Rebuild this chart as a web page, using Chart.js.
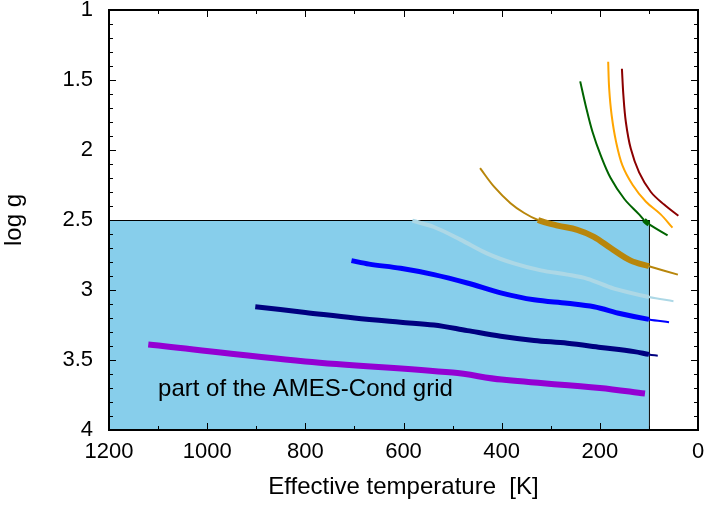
<!DOCTYPE html>
<html>
<head>
<meta charset="utf-8">
<script src="https://cdn.jsdelivr.net/npm/chart.js@4"></script>
<style>
  html, body { margin: 0; padding: 0; background: #fff; }
</style>
</head>
<body>
<canvas id="teffChart" width="709" height="505"></canvas>
<script>
// cooling tracks: effective temperature [K] vs log g
const tempViolet = [1120, 800, 500, 400, 200, 108];
const loggViolet = [3.39, 3.51, 3.59, 3.64, 3.70, 3.74];

const tempNavy = [902, 800, 700, 606, 538, 470, 402, 334, 266, 198, 130, 100, 82];
const loggNavy = [3.12, 3.16, 3.20, 3.23, 3.25, 3.29, 3.33, 3.36, 3.38, 3.41, 3.44, 3.46, 3.47];

const tempBlue = [706, 670, 606, 538, 470, 402, 334, 266, 212, 157, 100, 59];
const loggBlue = [2.79, 2.815, 2.845, 2.89, 2.95, 3.02, 3.07, 3.095, 3.12, 3.17, 3.21, 3.23];

const tempLightBlue = [582, 538, 484, 429, 375, 320, 266, 225, 171, 100, 50];
const loggLightBlue = [2.505, 2.55, 2.64, 2.74, 2.81, 2.86, 2.89, 2.92, 2.99, 3.05, 3.08];

const tempGold = [444, 416, 382, 354, 326, 286, 246, 212, 178, 137, 100, 41];
const loggGold = [2.13, 2.26, 2.38, 2.45, 2.50, 2.54, 2.57, 2.62, 2.70, 2.79, 2.83, 2.89];

const tempGreen = [240, 229, 215, 198, 178, 150, 120, 110, 100, 62];
const loggGreen = [1.51, 1.68, 1.87, 2.04, 2.20, 2.35, 2.46, 2.50, 2.53, 2.61];

const tempOrange = [183, 181, 176, 167, 154, 133, 106, 76, 52];
const loggOrange = [1.37, 1.56, 1.75, 1.94, 2.11, 2.25, 2.37, 2.46, 2.555];

const tempDarkRed = [155, 152, 147, 137, 120, 96, 69, 40];
const loggDarkRed = [1.42, 1.61, 1.80, 1.99, 2.16, 2.30, 2.39, 2.47];

// AMES-Cond grid region
const gridTemp = [1200, 100];
const gridLogg = [2.5, 4];
const gridLabel = 'part of the AMES-Cond grid';

const xTicks = [1200, 1000, 800, 600, 400, 200, 0];
const yTicks = [1, 1.5, 2, 2.5, 3, 3.5, 4];

const FONT = "'Liberation Sans', Arial, Helvetica, sans-serif";

function toPoints(temps, loggs) {
    return temps.map((t, i) => ({ x: t, y: loggs[i] }));
}

// inside the grid box -> thick line, outside -> thin line
function inGrid(p) {
    return p.x >= gridTemp[1] - 1 && p.y >= gridLogg[0] - 0.01;
}

function track(points, color, thick) {
    return {
        data: points,
        borderColor: color,
        borderWidth: 2,
        pointRadius: 0,
        tension: 0.35,
        segment: {
            borderWidth: c => {
                const d = c.chart.data.datasets[c.datasetIndex].data;
                return inGrid(d[c.p0DataIndex]) && inGrid(d[c.p1DataIndex]) ? thick : 2;
            }
        }
    };
}

const gridBox = {
    id: 'gridBox',
    beforeDatasetsDraw(chart) {
        const { ctx, scales: { x, y } } = chart;
        const l = x.getPixelForValue(gridTemp[0]);
        const r = x.getPixelForValue(gridTemp[1]);
        const t = y.getPixelForValue(gridLogg[0]);
        const b = y.getPixelForValue(gridLogg[1]);
        ctx.save();
        ctx.fillStyle = '#87ceeb';
        ctx.fillRect(l, t, r - l, b - t);
        ctx.strokeStyle = '#000';
        ctx.lineWidth = 1;
        ctx.strokeRect(l, t + 0.5, r - l + 0.5, b - t);
        ctx.fillStyle = '#000';
        ctx.font = '24px ' + FONT;
        ctx.textBaseline = 'alphabetic';
        ctx.fillText(gridLabel, x.getPixelForValue(1100), y.getPixelForValue(3.757));
        ctx.restore();
    },
    afterDraw(chart) {
        const { ctx, chartArea: a, scales: { x, y } } = chart;
        ctx.save();
        ctx.strokeStyle = '#000';
        ctx.lineWidth = 1;
        ctx.beginPath();
        for (let t = 0; t <= 1200; t += 100) {
            const px = Math.round(x.getPixelForValue(t)) + 0.5;
            const len = t % 200 === 0 ? 7 : 4;
            ctx.moveTo(px, a.bottom); ctx.lineTo(px, a.bottom - len);
            ctx.moveTo(px, a.top); ctx.lineTo(px, a.top + len);
        }
        for (let i = 0; i <= 30; i++) {
            const py = Math.round(y.getPixelForValue(1 + i / 10)) + 0.5;
            const len = i % 5 === 0 ? 7 : 4;
            ctx.moveTo(a.left, py); ctx.lineTo(a.left + len, py);
            ctx.moveTo(a.right, py); ctx.lineTo(a.right - len, py);
        }
        ctx.stroke();
        ctx.lineWidth = 2;
        ctx.strokeRect(a.left, a.top, a.right - a.left, a.bottom - a.top);
        ctx.restore();
    }
};

Chart.defaults.font.family = FONT;
Chart.defaults.color = '#000';

new Chart(document.getElementById('teffChart'), {
    type: 'line',
    data: {
        datasets: [
            track(toPoints(tempViolet, loggViolet), '#9400d3', 6),
            track(toPoints(tempNavy, loggNavy), '#000080', 5),
            track(toPoints(tempBlue, loggBlue), '#0000ff', 5),
            track(toPoints(tempLightBlue, loggLightBlue), '#add8e6', 4),
            track(toPoints(tempGold, loggGold), '#b8860b', 6),
            track(toPoints(tempGreen, loggGreen), '#006400', 5),
            track(toPoints(tempOrange, loggOrange), '#ffa500', 4),
            track(toPoints(tempDarkRed, loggDarkRed), '#8b0000', 4)
        ]
    },
    options: {
        responsive: false,
        animation: false,
        layout: { autoPadding: false, padding: { top: 10, right: 11, left: 0, bottom: 0 } },
        plugins: { legend: { display: false }, tooltip: { enabled: false } },
        scales: {
            x: {
                type: 'linear',
                reverse: true,
                min: 0,
                max: 1200,
                afterFit: s => { s.height = 75; },
                afterBuildTicks: s => { s.ticks = xTicks.map(v => ({ value: v })); },
                grid: { display: false, drawTicks: true, tickLength: 13 },
                border: { display: false },
                ticks: { padding: 0, font: { size: 22, lineHeight: 0.8 }, maxRotation: 0, callback: v => String(v) },
                title: {
                    display: true,
                    text: 'Effective temperature  [K]',
                    font: { size: 24 },
                    padding: { top: 0, bottom: 3 }
                }
            },
            y: {
                type: 'linear',
                reverse: true,
                min: 1,
                max: 4,
                afterFit: s => { s.width = 109; },
                afterBuildTicks: s => { s.ticks = yTicks.map(v => ({ value: v })); },
                grid: { display: false, drawTicks: true, tickLength: 16 },
                border: { display: false },
                ticks: { padding: 0, font: { size: 22, lineHeight: 0.8 }, callback: v => String(v) },
                title: {
                    display: true,
                    text: 'log g',
                    font: { size: 24 },
                    padding: { top: 0, bottom: 0 }
                }
            }
        }
    },
    plugins: [gridBox]
});
</script>
</body>
</html>
